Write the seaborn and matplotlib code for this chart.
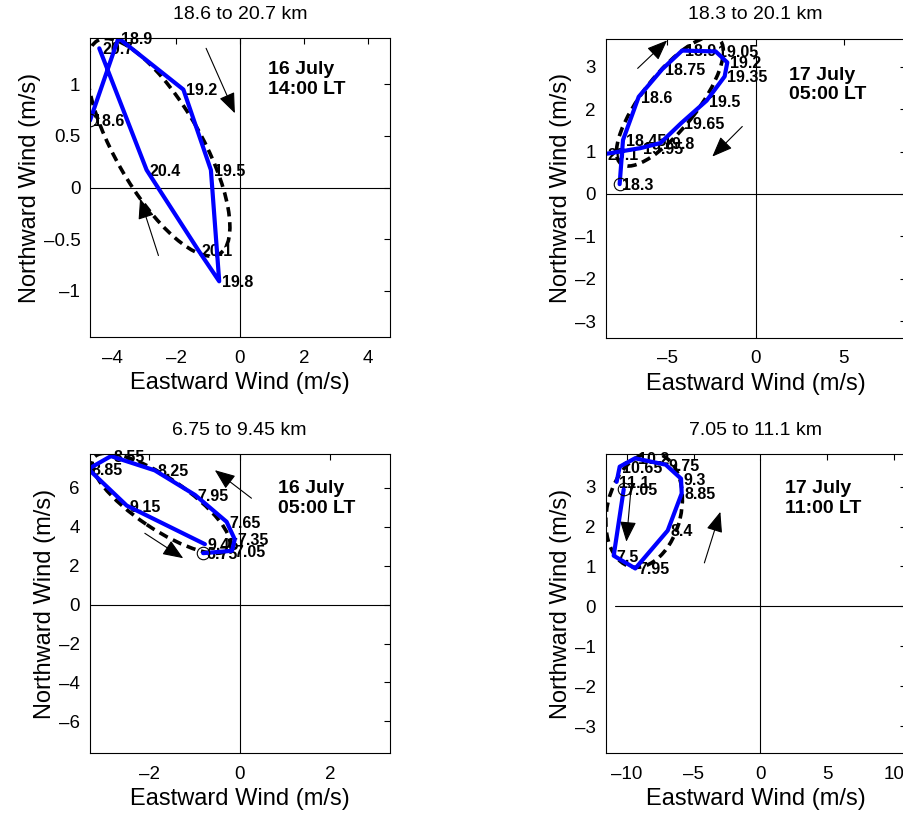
import matplotlib
matplotlib.use("Agg")
import matplotlib.pyplot as plt
import seaborn as sns
import pandas as pd
from matplotlib.patches import Ellipse
from matplotlib.transforms import Affine2D

# ---------------- data ----------------
# Panel A: 16 July 14:00 LT, 18.6 to 20.7 km
a_title = "18.6 to 20.7 km"
a_date = "16 July\n14:00 LT"
a_heights = ["18.6", "18.9", "19.2", "19.5", "19.8", "20.1", "20.4", "20.7"]
a_u = [-4.69, -3.80, -1.77, -0.91, -0.65, -1.30, -2.92, -4.40]
a_v = [0.65, 1.45, 0.95, 0.17, -0.91, -0.61, 0.17, 1.35]
a_ellipse = [-2.55, 0.39, 3.85, 1.35, 119.6]   # centre x, centre y, semi-axes, tilt
a_arrows = [[-1.06, 1.35, -0.16, 0.72], [-2.55, -0.66, -3.125, -0.107]]
a_date_xy = [0.885, 1.045]
a_xlim = [-4.69, 4.69]
a_ylim = [-1.45, 1.45]
a_xticks = [-4, -2, 0, 2, 4]
a_xticklabels = ["–4", "–2", "0", "2", "4"]
a_yticks = [-1, -0.5, 0, 0.5, 1]
a_yticklabels = ["–1", "–0.5", "0", "0.5", "1"]
a_hspan = [-4.69, 4.69]
a_vspan = [-1.45, 1.45]

# Panel B: 17 July 05:00 LT, 18.3 to 20.1 km
b_title = "18.3 to 20.1 km"
b_date = "17 July\n05:00 LT"
b_heights = ["18.3", "18.45", "18.6", "18.75", "18.9", "19.05", "19.2",
             "19.35", "19.5", "19.65", "19.8", "19.95", "20.1"]
b_u = [-7.71, -7.52, -6.63, -5.30, -4.17, -2.27, -1.61, -1.76, -2.78,
       -4.22, -5.40, -6.53, -8.55]
b_v = [0.23, 1.27, 2.29, 2.94, 3.38, 3.36, 3.10, 2.77, 2.20, 1.67, 1.20,
       1.08, 0.94]
b_ellipse = [-4.86, 2.18, 4.5, 1.55, 52.0]
b_arrows = [[-6.69, 2.96, -5.02, 3.62], [-0.76, 1.59, -2.46, 0.88]]
b_date_xy = [1.89, 2.57]
b_xlim = [-8.5, 8.5]
b_ylim = [-3.39, 3.66]
b_xticks = [-5, 0, 5]
b_xticklabels = ["–5", "0", "5"]
b_yticks = [-3, -2, -1, 0, 1, 2, 3]
b_yticklabels = ["–3", "–2", "–1", "0", "1", "2", "3"]
b_hspan = [-8.5, 8.5]
b_vspan = [-3.4, 3.4]

# Panel C: 16 July 05:00 LT, 6.75 to 9.45 km
c_title = "6.75 to 9.45 km"
c_date = "16 July\n05:00 LT"
c_heights = ["6.75", "7.05", "7.35", "7.65", "7.95", "8.25", "8.55",
             "8.85", "9.15", "9.45"]
c_u = [-0.81, -0.17, -0.11, -0.29, -0.99, -1.88, -2.85, -3.35, -2.50, -0.77]
c_v = [2.64, 2.76, 3.35, 4.25, 5.63, 6.89, 7.62, 6.96, 5.08, 3.10]
c_ellipse = [-1.74, 5.2, 1.8, 0.57, -34.0]
c_arrows = [[0.26, 5.46, -0.55, 6.9], [-2.1, 3.66, -1.25, 2.38]]
c_date_xy = [0.85, 5.45]
c_xlim = [-3.32, 3.32]
c_ylim = [-7.62, 7.73]
c_xticks = [-2, 0, 2]
c_xticklabels = ["–2", "0", "2"]
c_yticks = [-6, -4, -2, 0, 2, 4, 6]
c_yticklabels = ["–6", "–4", "–2", "0", "2", "4", "6"]
c_hspan = [-3.32, 3.32]
c_vspan = [-7.62, 7.73]

# Panel D: 17 July 11:00 LT, 7.05 to 11.1 km
d_title = "7.05 to 11.1 km"
d_date = "17 July\n11:00 LT"
d_heights = ["7.05", "7.5", "7.95", "8.4", "8.85", "9.3", "9.75", "10.2",
             "10.65", "11.1"]
d_u = [-10.25, -11.0, -9.38, -6.95, -5.90, -5.95, -7.10, -9.40, -10.55, -10.78]
d_v = [2.93, 1.27, 0.95, 1.90, 2.83, 3.20, 3.55, 3.71, 3.50, 3.12]
d_ellipse = [-8.72, 2.41, 4.37, 2.77, 77.0]
d_arrows = [[-9.7, 2.95, -10.05, 1.62], [-4.2, 1.09, -3.0, 2.37]]
d_date_xy = [1.82, 2.7]
d_xlim = [-11.6, 10.9]
d_ylim = [-3.68, 3.81]
d_xticks = [-10, -5, 0, 5, 10]
d_xticklabels = ["–10", "–5", "0", "5", "10"]
d_yticks = [-3, -2, -1, 0, 1, 2, 3]
d_yticklabels = ["–3", "–2", "–1", "0", "1", "2", "3"]
d_hspan = [-10.9, 10.9]
d_vspan = [-3.7, 3.7]

x_label = "Eastward Wind (m/s)"
y_label = "Northward Wind (m/s)"

# ---------------- styling ----------------
sns.set_theme(style="white")
plt.rcParams["font.family"] = ["Liberation Sans", "DejaVu Sans"]
plt.rcParams["axes.edgecolor"] = "black"
plt.rcParams["axes.linewidth"] = 0.8
plt.rcParams["text.color"] = "black"
plt.rcParams["axes.labelcolor"] = "black"
plt.rcParams["xtick.color"] = "black"
plt.rcParams["ytick.color"] = "black"

W, H = 904, 813
fig = plt.figure(figsize=(W / 100, H / 100), dpi=100)


def make_axes(left_px, top_px, w_px=300, h_px=299):
    return fig.add_axes([left_px / W, (H - top_px - h_px) / H, w_px / W, h_px / H])


def draw_panel(ax, title, date, heights, u, v, ell, arrows, date_xy, xlim, ylim,
               xticks, xticklabels, yticks, yticklabels, hspan, vspan):
    ax.set_xlim(*xlim)
    ax.set_ylim(*ylim)
    # zero lines
    ax.plot(hspan, [0, 0], color="black", lw=0.8, zorder=1)
    ax.plot([0, 0], vspan, color="black", lw=0.8, zorder=1)
    # fitted ellipse (dashed)
    k = (xlim[1] - xlim[0]) / (ylim[1] - ylim[0])
    cx, cy, sa, sb, ang = ell
    e = Ellipse((0, 0), 2 * sa, 2 * sb, angle=ang, fill=False, edgecolor="black",
                lw=2.6, linestyle=(0, (2.6, 1.6)), zorder=2)
    e.set_transform(Affine2D().scale(1, 1 / k).translate(cx, cy) + ax.transData)
    ax.add_patch(e)
    # hodograph
    df = pd.DataFrame({"u": u, "v": v})
    sns.lineplot(data=df, x="u", y="v", sort=False, estimator=None, color="blue",
                 lw=3.0, ax=ax, zorder=2.5)
    ax.plot(u[0], v[0], marker="o", mfc="none", mec="black", ms=9, mew=0.8,
            zorder=3, linestyle="none")
    for h, x, y in zip(heights, u, v):
        ax.annotate(h, (x, y), xytext=(2, -1), textcoords="offset points",
                    ha="left", va="center", fontsize=11.5, fontweight="bold",
                    color="black", zorder=1.8, annotation_clip=False)
    for x0, y0, x1, y1 in arrows:
        ax.annotate("", xy=(x1, y1), xytext=(x0, y0),
                    arrowprops=dict(arrowstyle="-|>,head_length=0.9,head_width=0.36",
                                    color="black", lw=0.8, shrinkA=0, shrinkB=0,
                                    mutation_scale=14),
                    zorder=3)
    ax.text(date_xy[0], date_xy[1], date, ha="left", va="center", fontsize=14,
            fontweight="bold", linespacing=1.2, color="black")
    ax.set_xticks(xticks)
    ax.set_xticklabels(xticklabels)
    ax.set_yticks(yticks)
    ax.set_yticklabels(yticklabels)
    ax.set_xlim(*xlim)
    ax.set_ylim(*ylim)
    ax.tick_params(direction="in", top=True, right=True, length=4, width=0.8,
                   labelsize=13.5, colors="black")
    ax.tick_params(axis="x", pad=9)
    ax.tick_params(axis="y", pad=7)
    ax.set_title(title, fontsize=14, pad=14, color="black")
    ax.set_xlabel(x_label, fontsize=17, labelpad=4, color="black")
    ax.set_ylabel(y_label, fontsize=17, labelpad=2, color="black")
    for s in ax.spines.values():
        s.set_visible(True)
        s.set_color("black")
        s.set_linewidth(0.8)


ax_a = make_axes(90, 38)
ax_b = make_axes(605.7, 38.7)
ax_c = make_axes(89.7, 454)
ax_d = make_axes(605.7, 454.3)

draw_panel(ax_a, a_title, a_date, a_heights, a_u, a_v, a_ellipse, a_arrows, a_date_xy,
           a_xlim, a_ylim, a_xticks, a_xticklabels, a_yticks, a_yticklabels, a_hspan, a_vspan)
draw_panel(ax_b, b_title, b_date, b_heights, b_u, b_v, b_ellipse, b_arrows, b_date_xy,
           b_xlim, b_ylim, b_xticks, b_xticklabels, b_yticks, b_yticklabels, b_hspan, b_vspan)
draw_panel(ax_c, c_title, c_date, c_heights, c_u, c_v, c_ellipse, c_arrows, c_date_xy,
           c_xlim, c_ylim, c_xticks, c_xticklabels, c_yticks, c_yticklabels, c_hspan, c_vspan)
draw_panel(ax_d, d_title, d_date, d_heights, d_u, d_v, d_ellipse, d_arrows, d_date_xy,
           d_xlim, d_ylim, d_xticks, d_xticklabels, d_yticks, d_yticklabels, d_hspan, d_vspan)

fig.savefig("out.png", dpi=100)
